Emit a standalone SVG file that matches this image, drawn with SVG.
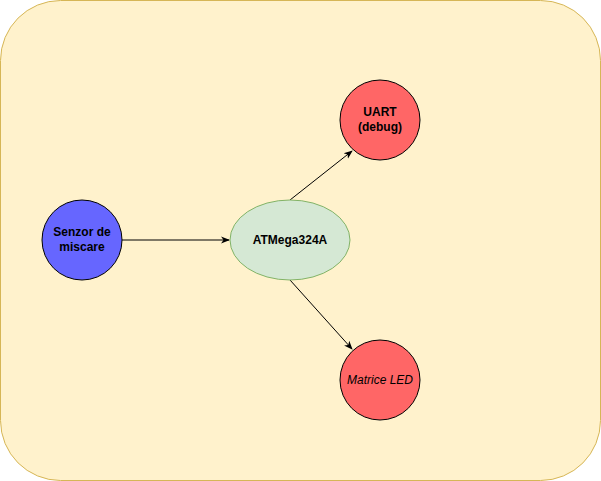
<svg xmlns="http://www.w3.org/2000/svg" width="601" height="481" viewBox="0 0 601 481">
<style>
text{font-family:"Liberation Sans",Arial,sans-serif;font-size:12px;text-anchor:middle;fill:#000}
.b{font-weight:bold}
.c{stroke:#000;stroke-width:1}
.e{stroke:#000;stroke-width:1;fill:none}
</style>
<defs><marker id="a" markerWidth="10" markerHeight="10" refX="8" refY="5" orient="auto" markerUnits="userSpaceOnUse"><path d="M0,1.5 L9,5 L0,8.5 L2.5,5 Z" fill="#000"/></marker></defs>
<rect x="0.5" y="0.5" width="600" height="480" rx="60" fill="#fff2cc" stroke="#d6b656"/>
<g id="connectors">
<line class="e" x1="122" y1="240" x2="229" y2="240" marker-end="url(#a)"/>
<line class="e" x1="290" y1="200" x2="352" y2="151" marker-end="url(#a)"/>
<line class="e" x1="290" y1="280" x2="352" y2="349" marker-end="url(#a)"/>
</g>
<g id="senzor"><circle class="c" cx="82" cy="240" r="40" fill="#6666ff"/><text class="b" x="82" y="236">Senzor de</text><text class="b" x="82" y="251">miscare</text></g>
<g id="atmega"><ellipse cx="290" cy="240" rx="60" ry="40" fill="#d5e8d4" stroke="#82b366"/><text class="b" x="290" y="244">ATMega324A</text></g>
<g id="uart"><circle class="c" cx="380" cy="120" r="40" fill="#ff6666"/><text class="b" x="380" y="116">UART</text><text class="b" x="380" y="131">(debug)</text></g>
<g id="matrice"><circle class="c" cx="380" cy="380" r="40" fill="#ff6666"/><text x="380" y="384" font-style="italic">Matrice LED</text></g>
</svg>
